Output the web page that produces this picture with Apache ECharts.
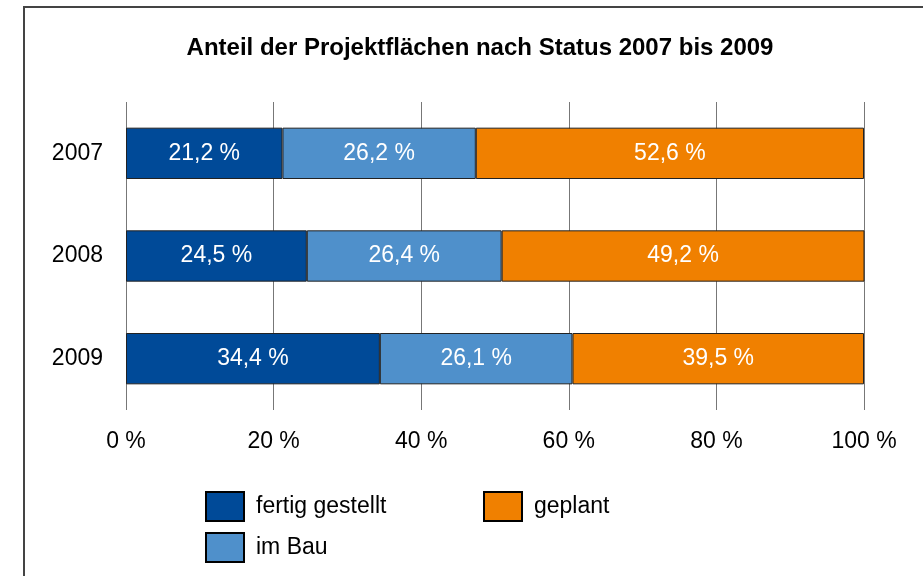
<!DOCTYPE html>
<html>
<head>
<meta charset="utf-8">
<script src="https://cdn.jsdelivr.net/npm/echarts@6/dist/echarts.min.js"></script>
<style>
  html, body { margin: 0; padding: 0; background: #fff; }
  #chart { width: 923px; height: 576px; }
</style>
</head>
<body>
<div id="chart"></div>
<script>
var years = ['2007', '2008', '2009'];
var fertig = [21.2, 24.5, 34.4];   // fertig gestellt
var imBau = [26.2, 26.4, 26.1];
var geplant = [52.6, 49.2, 39.5];
var xTicks = [0, 20, 40, 60, 80, 100];

var font = 'Liberation Sans, Arial, sans-serif';

function pct(p) {
  return String(p.value).replace('.', ',') + ' %';
}

function barSeries(name, values, color) {
  return {
    name: name,
    type: 'bar',
    stack: 'total',
    barWidth: '50%',
    itemStyle: { color: color, borderColor: '#222', borderWidth: 1 },
    label: {
      show: true,
      position: 'inside',
      color: '#fff',
      fontSize: 23,
      fontFamily: font,
      formatter: pct
    },
    data: values
  };
}

var legendText = { fontSize: 23, color: '#000', fontFamily: font, padding: [0, 0, 0, 7] };

var chart = echarts.init(document.getElementById('chart'));
chart.setOption({
  backgroundColor: '#fff',
  animation: false,
  title: {
    text: 'Anteil der Projektflächen nach Status 2007 bis 2009',
    left: 475,
    top: 31,
    textAlign: 'center',
    textStyle: { fontSize: 24, fontWeight: 'bold', color: '#000', fontFamily: font }
  },
  graphic: [{
    type: 'rect',
    shape: { x: 24, y: 7, width: 1000, height: 1000 },
    style: { fill: 'none', stroke: '#444', lineWidth: 2 }
  }],
  grid: { left: 126, right: 59, top: 102, bottom: 166 },
  legend: [{
    data: ['fertig gestellt', 'im Bau'],
    orient: 'vertical',
    left: 200,
    top: 486,
    icon: 'rect',
    itemWidth: 38,
    itemHeight: 29,
    itemGap: 10,
    itemStyle: { borderColor: '#000', borderWidth: 2 },
    textStyle: legendText
  }, {
    data: ['geplant'],
    orient: 'vertical',
    left: 478,
    top: 486,
    icon: 'rect',
    itemWidth: 38,
    itemHeight: 29,
    itemStyle: { borderColor: '#000', borderWidth: 2 },
    textStyle: legendText
  }],
  xAxis: {
    type: 'value',
    min: xTicks[0],
    max: xTicks[xTicks.length - 1],
    interval: xTicks[1] - xTicks[0],
    axisLine: { show: false },
    axisTick: { show: false },
    splitLine: { show: true, lineStyle: { color: '#777', width: 1 } },
    axisLabel: {
      margin: 20,
      fontSize: 23,
      color: '#000',
      fontFamily: font,
      formatter: '{value} %'
    }
  },
  yAxis: {
    type: 'category',
    inverse: true,
    data: years,
    axisLine: { show: false },
    axisTick: { show: false },
    axisLabel: { margin: 23, fontSize: 23, color: '#000', fontFamily: font }
  },
  series: [
    barSeries('fertig gestellt', fertig, '#004a98'),
    barSeries('im Bau', imBau, '#4f90cb'),
    barSeries('geplant', geplant, '#f08000')
  ]
});
</script>
</body>
</html>
